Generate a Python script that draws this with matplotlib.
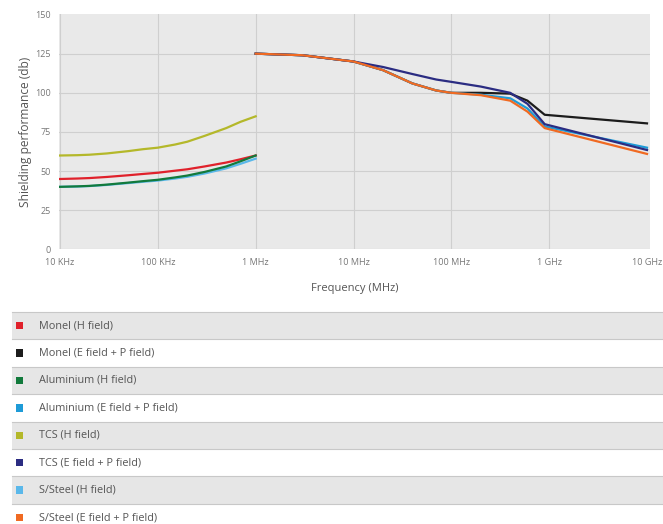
import matplotlib
matplotlib.use("Agg")
import matplotlib.pyplot as plt
from matplotlib.patches import Rectangle

plt.rcParams["font.family"] = ["Open Sans", "DejaVu Sans"]

# Frequencies (Hz) for the low band (H field) and high band (E field + P field)
freq_low = [1e4, 1.5e4, 2e4, 3e4, 5e4, 7e4, 1e5, 1.5e5, 2e5, 3e5, 5e5, 7e5, 1e6]
freq_high = [1e6, 3e6, 1e7, 2e7, 4e7, 7e7, 1e8, 2e8, 4e8, 6e8, 9e8, 1e10]

monel_h = [45, 45.3, 45.6, 46.3, 47.4, 48.2, 49, 50.3, 51.2, 53, 55.5, 57.6, 60]
aluminium_h = [40, 40.3, 40.6, 41.4, 42.7, 43.6, 44.5, 46, 47.2, 49.5, 53, 56.3, 60]
tcs_h = [60, 60.2, 60.5, 61.3, 62.8, 64, 65, 67, 68.8, 72.5, 77.5, 81.5, 85]
steel_h = [40, 40.2, 40.5, 41.2, 42.4, 43.2, 44, 45.3, 46.4, 48.5, 51.8, 54.7, 58]

monel_e = [125, 124, 120, 114.5, 106, 101.5, 100, 100, 99.5, 95, 86, 80.5]
aluminium_e = [125, 124, 120, 114.5, 106, 101.5, 100, 98.8, 96.5, 90, 78.5, 65]
tcs_e = [125, 124, 120, 116.5, 112, 108.5, 107, 104, 100, 93, 80, 63.5]
steel_e = [125, 124, 120, 114.5, 106, 101.5, 100, 98.5, 95, 88, 77.5, 61]

tick_freqs = [1e4, 1e5, 1e6, 1e7, 1e8, 1e9, 1e10]
tick_labels = ["10 KHz", "100 KHz", "1 MHz", "10 MHz", "100 MHz", "1 GHz", "10 GHz"]
y_ticks = [0, 25, 50, 75, 100, 125, 150]

legend_labels = [
    "Monel (H field)", "Monel (E field + P field)",
    "Aluminium (H field)", "Aluminium (E field + P field)",
    "TCS (H field)", "TCS (E field + P field)",
    "S/Steel (H field)", "S/Steel (E field + P field)",
]
colors = {
    "Monel (H field)": "#e0212b",
    "Monel (E field + P field)": "#1c1c1c",
    "Aluminium (H field)": "#127a3c",
    "Aluminium (E field + P field)": "#1e9bd7",
    "TCS (H field)": "#b4b82a",
    "TCS (E field + P field)": "#2b2c82",
    "S/Steel (H field)": "#5ab8ea",
    "S/Steel (E field + P field)": "#f06a22",
}

W, H = 663, 524
fig = plt.figure(figsize=(W / 100, H / 100), dpi=100)
fig.patch.set_facecolor("white")

# Main chart axes (pixel placement converted to figure fractions)
left, right, top, bottom = 59, 650, 14.5, 249.5
ax = fig.add_axes([left / W, 1 - bottom / H, (right - left) / W, (bottom - top) / H])
ax.set_facecolor("#e9e9e9")
ax.set_xscale("log")
ax.set_xlim(10 ** (4 - 1 / 98), 10 ** (10 + 3 / 98))
ax.set_ylim(0, 150)

ax.minorticks_off()
ax.set_xticks(tick_freqs)
ax.set_xticklabels(tick_labels)
ax.set_yticks(y_ticks)
ax.grid(True, which="major", color="#cfcfcf", linewidth=0.8)
ax.get_ygridlines()[-1].set_visible(False)
ax.get_xgridlines()[-1].set_visible(False)
ax.tick_params(axis="both", length=0, labelsize=6.5, labelcolor="#777777")
ax.tick_params(axis="x", pad=6)
ax.tick_params(axis="y", pad=6)
for s in ax.spines.values():
    s.set_visible(False)
ax.set_axisbelow(True)

lw = 1.6
ax.plot(freq_low, monel_h, color=colors["Monel (H field)"], lw=lw)
ax.plot(freq_low, tcs_h, color=colors["TCS (H field)"], lw=lw)
ax.plot(freq_low, steel_h, color=colors["S/Steel (H field)"], lw=lw)
ax.plot(freq_low, aluminium_h, color=colors["Aluminium (H field)"], lw=lw)

ax.plot(freq_high, monel_e, color=colors["Monel (E field + P field)"], lw=lw)
ax.plot(freq_high, aluminium_e, color=colors["Aluminium (E field + P field)"], lw=lw)
ax.plot(freq_high, tcs_e, color=colors["TCS (E field + P field)"], lw=lw)
ax.plot(freq_high, steel_e, color=colors["S/Steel (E field + P field)"], lw=lw)

ax.set_xlabel("Frequency (MHz)", fontsize=8, color="#555555", labelpad=12)
ax.set_ylabel("Shielding performance (db)", fontsize=8.6, color="#555555", labelpad=2)

# Legend table below the chart, drawn in pixel coordinates
lg = fig.add_axes([0, 0, 1, 1], zorder=-1)
lg.set_xlim(0, W)
lg.set_ylim(H, 0)
lg.axis("off")
row_top = 312
row_h = 27.4
for i, name in enumerate(legend_labels):
    y0 = row_top + i * row_h
    face = "#e6e6e6" if i % 2 == 0 else "white"
    lg.add_patch(Rectangle((12, y0), W - 12, row_h, facecolor=face, edgecolor="none"))
    lg.plot([12, W], [y0, y0], color="#c8c8c8", lw=0.8)
    yc = y0 + row_h / 2
    lg.add_patch(Rectangle((15.5, yc - 3.8), 7.5, 7.5, facecolor=colors[name], edgecolor="none"))
    lg.text(39, yc, name, fontsize=7.8, color="#555555", va="center", ha="left")

fig.savefig("out.png", dpi=100, facecolor="white")
